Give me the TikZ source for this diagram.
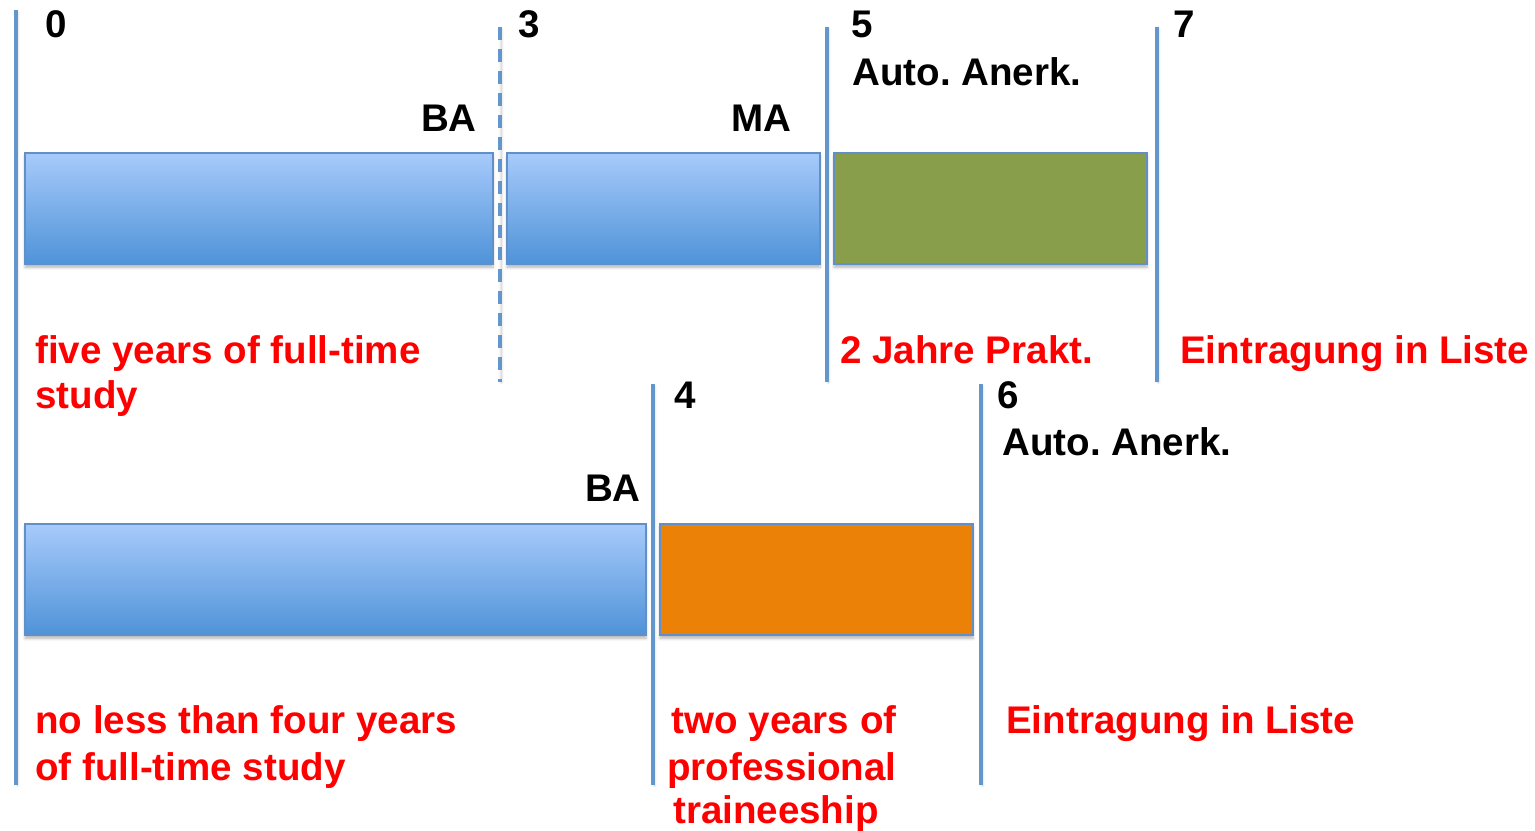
\documentclass[tikz,border=0pt]{standalone}
\usepackage{fontspec}
\setmainfont{Liberation Sans}
\usetikzlibrary{shadows.blur}
\frenchspacing
\definecolor{lineblue}{RGB}{98,150,205}
\definecolor{bartop}{RGB}{167,202,251}
\definecolor{barbot}{RGB}{79,147,216}
\definecolor{barborder}{RGB}{97,144,200}
\definecolor{greenbar}{RGB}{137,158,74}
\definecolor{orangebar}{RGB}{235,129,6}
\definecolor{redtext}{RGB}{255,0,0}
\tikzset{
  vline/.style={draw=lineblue, line width=3.4pt, blur shadow={shadow xshift=1pt, shadow yshift=-1pt, shadow blur steps=4, shadow opacity=25}},
  dline/.style={vline, dash pattern=on 9.75pt off 6.75pt},
  barbase/.style={draw=barborder, line width=1.3pt, anchor=north west, inner sep=0pt, outer sep=0pt,
     minimum height=83.25pt, blur shadow={shadow xshift=0pt, shadow yshift=-2.5pt, shadow blur steps=5, shadow opacity=30}},
  bluebar/.style={barbase, top color=bartop, bottom color=barbot},
  greenbox/.style={barbase, fill=greenbar},
  orangebox/.style={barbase, fill=orangebar},
  lab/.style={font=\fontsize{28.9}{34.5}\selectfont\bfseries, inner sep=0pt, text=black},
  redlab/.style={lab, text=redtext},
}
\begin{document}
\begin{tikzpicture}[x=0.75pt, y=-0.75pt]
\useasboundingbox (0,0) rectangle (1535,831);
% bars
\node[bluebar, minimum width=351pt] (ba1) at (25,153) {};
\node[bluebar, minimum width=234.75pt] (ma) at (507,153) {};
\node[greenbox, minimum width=234.75pt] (prakt) at (834,153) {};
\node[bluebar, minimum width=465.75pt] (ba2) at (25,524) {};
\node[orangebox, minimum width=234.75pt] (train) at (660,524) {};
% vertical lines
\coordinate (l0t) at (16,10);   \coordinate (l0b) at (16,785);
\coordinate (l3t) at (500,27);  \coordinate (l3b) at (500,382);
\coordinate (l5t) at (827,27);  \coordinate (l5b) at (827,382);
\coordinate (l7t) at (1157,27); \coordinate (l7b) at (1157,382);
\coordinate (l4t) at (653,384); \coordinate (l4b) at (653,785);
\coordinate (l6t) at (981,384); \coordinate (l6b) at (981,785);
\draw[vline] (l0t) -- (l0b);
\draw[dline] (l3t) -- (l3b);
\draw[vline] (l5t) -- (l5b);
\draw[vline] (l7t) -- (l7b);
\draw[vline] (l4t) -- (l4b);
\draw[vline] (l6t) -- (l6b);
% top labels
\node[lab, anchor=base west] (n0) at (45,38) {0};
\node[lab, anchor=base west] (n3) at (518,38) {3};
\node[lab, anchor=base west] (n5) at (851,38) {5};
\node[lab, anchor=base west] (n7) at (1173,38) {7};
\node[lab, anchor=base west] (aa1) at (852,86) {Auto. Anerk.};
\node[lab, anchor=base east] (bat) at (477,132) {BA};
\node[lab, anchor=base east] (mat) at (792,132) {MA};
\node[redlab, anchor=base west] (f1) at (35,363) {five years of full-time};
\node[redlab, anchor=base west] (f2) at (35,408) {study};
\node[redlab, anchor=base west] (jp) at (840,363) {2 Jahre Prakt.};
\node[redlab, anchor=base west] (el1) at (1180,363) {Eintragung in Liste};
% bottom labels
\node[lab, anchor=base west] (n4) at (674,408) {4};
\node[lab, anchor=base west] (n6) at (997,408) {6};
\node[lab, anchor=base west] (aa2) at (1002,455) {Auto. Anerk.};
\node[lab, anchor=base east] (bab) at (641,501) {BA};
\node[redlab, anchor=base west] (nl1) at (35,733) {no less than four years};
\node[redlab, anchor=base west] (nl2) at (35,780) {of full-time study};
\node[redlab, anchor=base] (tw1) at (784,733) {two years of};
\node[redlab, anchor=base] (tw2) at (782,780) {professional};
\node[redlab, anchor=base] (tw3) at (776,823) {traineeship};
\node[redlab, anchor=base west] (el2) at (1006,733) {Eintragung in Liste};
\end{tikzpicture}
\end{document}
